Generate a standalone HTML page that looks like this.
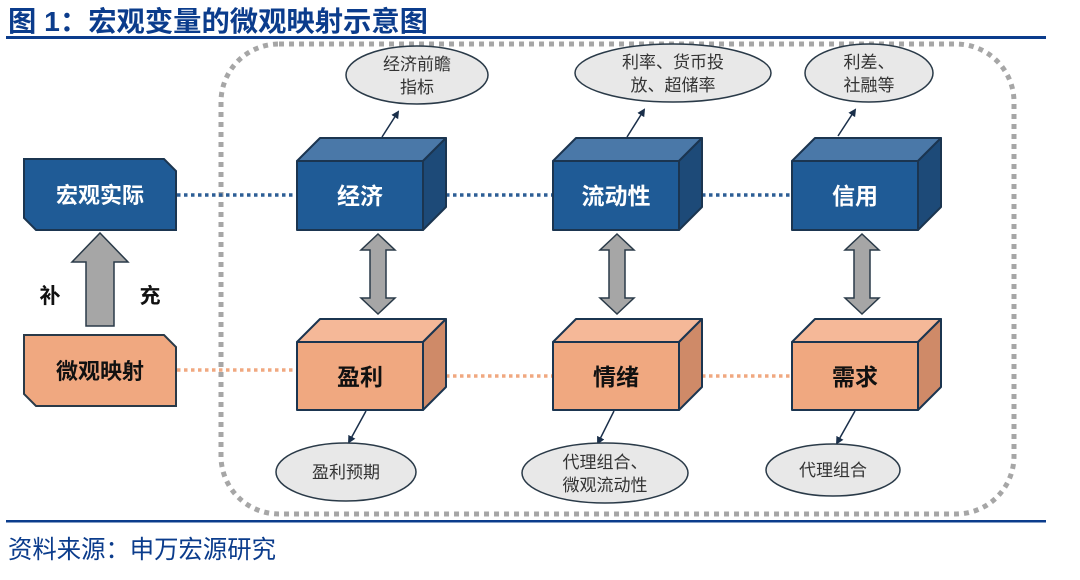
<!DOCTYPE html>
<html><head><meta charset="utf-8"><style>
html,body{margin:0;padding:0;background:#fff;}
svg{display:block;font-family:"Liberation Sans","Noto Sans CJK SC",sans-serif;}
</style></head><body>
<svg width="1080" height="580" viewBox="0 0 1080 580" xmlns="http://www.w3.org/2000/svg">
<defs>
<marker id="ah" markerWidth="8" markerHeight="8" refX="6" refY="4" orient="auto" markerUnits="userSpaceOnUse"><path d="M0,0 L8,4 L0,8 z" fill="#1a2f4a"/></marker>
</defs>
<text x="8" y="31" font-size="28" font-weight="bold" fill="#0b3c8c" textLength="420" lengthAdjust="spacingAndGlyphs">图 1：宏观变量的微观映射示意图</text>
<rect x="6" y="36" width="1040" height="3" fill="#0b3c8c"/>
<rect x="221" y="44" width="793" height="470" rx="58" fill="none" stroke="#a6a6a6" stroke-width="5" stroke-dasharray="5,5"/>
<rect x="6" y="520" width="1040" height="2.5" fill="#0b3c8c"/>
<text x="8" y="558" font-size="25" fill="#0b3c8c" textLength="268" lengthAdjust="spacingAndGlyphs">资料来源：申万宏源研究</text>

<g stroke-width="3.5" stroke-dasharray="3.5,3.5" fill="none">
<line x1="177" y1="195" x2="297" y2="195" stroke="#2d5e95"/>
<line x1="446" y1="195" x2="553" y2="195" stroke="#2d5e95"/>
<line x1="702" y1="195" x2="792" y2="195" stroke="#2d5e95"/>
<line x1="177" y1="370" x2="297" y2="370" stroke="#f0a880"/>
<line x1="446" y1="376" x2="553" y2="376" stroke="#f0a880"/>
<line x1="702" y1="376" x2="792" y2="376" stroke="#f0a880"/>
</g>

<path d="M24,159 L164,159 L176,171 L176,230 L36,230 L24,218 Z" fill="#1f5b96" stroke="#1b3550" stroke-width="2"/>
<text x="100" y="203" font-size="22" font-weight="bold" fill="#fff" text-anchor="middle">宏观实际</text>
<path d="M24,335 L164,335 L176,347 L176,406 L36,406 L24,394 Z" fill="#f0a880" stroke="#2a3a48" stroke-width="2"/>
<text x="100" y="379" font-size="22" font-weight="bold" fill="#111" text-anchor="middle">微观映射</text>
<path d="M100,233 L128,262 L114,262 L114,326 L86,326 L86,262 L72,262 Z" fill="#a6a6a6" stroke="#2a3a48" stroke-width="1.5"/>
<text x="50" y="303" font-size="21" font-weight="bold" fill="#111" text-anchor="middle">补</text>
<text x="150" y="303" font-size="21" font-weight="bold" fill="#111" text-anchor="middle">充</text>

<g stroke="#1b3550" stroke-width="2" stroke-linejoin="round">
<path d="M297,161 L320,138 L446,138 L423,161 Z" fill="#4a78a8"/>
<path d="M423,161 L446,138 L446,207 L423,230 Z" fill="#1d4a78"/>
<rect x="297" y="161" width="126" height="69" fill="#1f5b96"/>
<path d="M553,161 L576,138 L702,138 L679,161 Z" fill="#4a78a8"/>
<path d="M679,161 L702,138 L702,207 L679,230 Z" fill="#1d4a78"/>
<rect x="553" y="161" width="126" height="69" fill="#1f5b96"/>
<path d="M792,161 L815,138 L941,138 L918,161 Z" fill="#4a78a8"/>
<path d="M918,161 L941,138 L941,207 L918,230 Z" fill="#1d4a78"/>
<rect x="792" y="161" width="126" height="69" fill="#1f5b96"/>
<path d="M297,342 L320,319 L446,319 L423,342 Z" fill="#f5b898"/>
<path d="M423,342 L446,319 L446,387 L423,410 Z" fill="#cf8a68"/>
<rect x="297" y="342" width="126" height="68" fill="#f0a880"/>
<path d="M553,342 L576,319 L702,319 L679,342 Z" fill="#f5b898"/>
<path d="M679,342 L702,319 L702,387 L679,410 Z" fill="#cf8a68"/>
<rect x="553" y="342" width="126" height="68" fill="#f0a880"/>
<path d="M792,342 L815,319 L941,319 L918,342 Z" fill="#f5b898"/>
<path d="M918,342 L941,319 L941,387 L918,410 Z" fill="#cf8a68"/>
<rect x="792" y="342" width="126" height="68" fill="#f0a880"/>
</g>
<g font-size="23" font-weight="bold" text-anchor="middle">
<text x="360" y="204" fill="#fff">经济</text>
<text x="616" y="204" fill="#fff">流动性</text>
<text x="855" y="204" fill="#fff">信用</text>
<text x="360" y="385" fill="#111">盈利</text>
<text x="616" y="385" fill="#111">情绪</text>
<text x="855" y="385" fill="#111">需求</text>
</g>

<g fill="#a6a6a6" stroke="#2a3a48" stroke-width="1.5">
<path d="M378,234 L395,250 L386,250 L386,298 L395,298 L378,314 L361,298 L370,298 L370,250 L361,250 Z"/>
<path d="M617,234 L634,250 L625,250 L625,298 L634,298 L617,314 L600,298 L609,298 L609,250 L600,250 Z"/>
<path d="M862,234 L879,250 L870,250 L870,298 L879,298 L862,314 L845,298 L854,298 L854,250 L845,250 Z"/>
</g>

<g stroke="#1a2f4a" stroke-width="1.5" marker-end="url(#ah)">
<line x1="382" y1="137" x2="398" y2="112"/>
<line x1="627" y1="137" x2="644" y2="110"/>
<line x1="838" y1="136" x2="855" y2="110"/>
<line x1="366" y1="411" x2="349" y2="442"/>
<line x1="614" y1="411" x2="598" y2="443"/>
<line x1="855" y1="411" x2="837" y2="443"/>
</g>

<g fill="#e8e8e8" stroke="#2a3a48" stroke-width="1.5">
<ellipse cx="417" cy="75" rx="71" ry="29"/>
<ellipse cx="673" cy="73" rx="98" ry="29"/>
<ellipse cx="869" cy="73" rx="64" ry="29"/>
<ellipse cx="346" cy="472" rx="70" ry="29"/>
<ellipse cx="605" cy="473" rx="83" ry="30"/>
<ellipse cx="833" cy="470" rx="67" ry="26"/>
</g>
<g font-size="17" fill="#333" text-anchor="middle">
<text x="417" y="70">经济前瞻</text>
<text x="417" y="93">指标</text>
<text x="673" y="68">利率、货币投</text>
<text x="673" y="91">放、超储率</text>
<text x="869" y="68">利差、</text>
<text x="869" y="91">社融等</text>
<text x="346" y="478">盈利预期</text>
<text x="605" y="468">代理组合、</text>
<text x="605" y="491">微观流动性</text>
<text x="833" y="476">代理组合</text>
</g>
</svg>
</body></html>
